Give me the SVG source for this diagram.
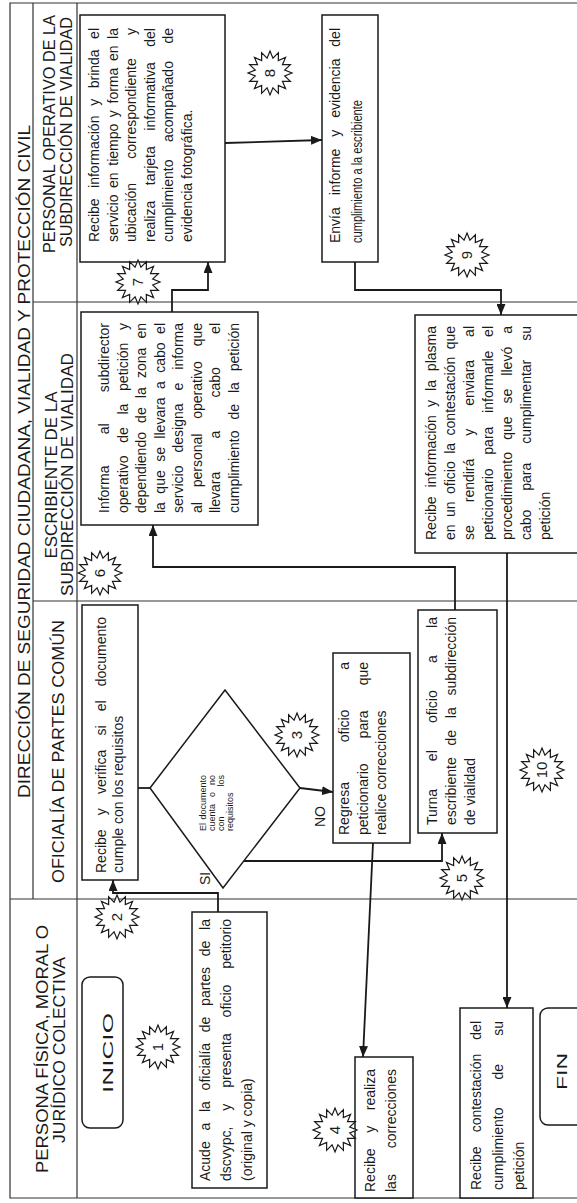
<svg xmlns="http://www.w3.org/2000/svg" width="577" height="1203" viewBox="0 0 577 1203">
<style>
.t{font-family:"Liberation Sans",Arial,sans-serif;font-size:14px;fill:#1a1a1a}
.d{font-family:"Liberation Sans",Arial,sans-serif;font-size:9px;fill:#1a1a1a}
.h{font-family:"Liberation Sans",Arial,sans-serif;font-size:17px;fill:#1a1a1a}
.box{fill:#fff;stroke:#1a1a1a;stroke-width:1.5}
.lane{fill:none;stroke:#333;stroke-width:1.2}
.c{fill:none;stroke:#1a1a1a;stroke-width:1.8}
.n{font-family:"Liberation Sans",Arial,sans-serif;font-size:15px;fill:#1a1a1a;text-anchor:middle}
.star{fill:#fff;stroke:#1a1a1a;stroke-width:1.2}
</style>
<defs>
<marker id="ah" markerUnits="userSpaceOnUse" markerWidth="11" markerHeight="9" refX="11" refY="4.5" orient="auto"><path d="M0,0 L11,4.5 L0,9 z" fill="#1a1a1a"/></marker>
<polygon id="sb" points="22,0 14.71,2.93 20.33,8.42 12.47,8.33 15.56,15.56 8.33,12.47 8.42,20.33 2.93,14.71 0,22 -2.93,14.71 -8.42,20.33 -8.33,12.47 -15.56,15.56 -12.47,8.33 -20.33,8.42 -14.71,2.93 -22,0 -14.71,-2.93 -20.33,-8.42 -12.47,-8.33 -15.56,-15.56 -8.33,-12.47 -8.42,-20.33 -2.93,-14.71 0,-22 2.93,-14.71 8.42,-20.33 8.33,-12.47 15.56,-15.56 12.47,-8.33 20.33,-8.42 14.71,-2.93"/>
</defs>
<rect width="577" height="1203" fill="#fff"/>
<g transform="translate(0,1203) rotate(-90)">
<g id="frame">
<path class="lane" d="M5,577 V10 H1200 V577 M304,33 H1200 M5,77 H1200 M304,10 V577 M602,33 V577 M901,33 V577"/>
<text class="h" x="405" y="30" font-size="19" textLength="673" lengthAdjust="spacingAndGlyphs">DIRECCIÓN DE SEGURIDAD CIUDADANA, VIALIDAD Y PROTECCIÓN CIVIL</text>
<text class="h" x="30" y="48" textLength="248" lengthAdjust="spacingAndGlyphs">PERSONA FÍSICA, MORAL  O</text>
<text class="h" x="60" y="65" textLength="186" lengthAdjust="spacingAndGlyphs">JURÍDICO COLECTIVA</text>
<text class="h" x="320" y="64" textLength="263" lengthAdjust="spacingAndGlyphs">OFICIALÍA DE PARTES COMÚN</text>
<text class="h" x="728" y="57" text-anchor="middle">ESCRIBIENTE DE LA</text>
<text class="h" x="607" y="73" textLength="243" lengthAdjust="spacingAndGlyphs">SUBDIRECCIÓN DE VIALIDAD</text>
<text class="h" x="950" y="55" textLength="238" lengthAdjust="spacingAndGlyphs">PERSONAL  OPERATIVO DE LA</text>
<text class="h" x="956" y="72" textLength="230" lengthAdjust="spacingAndGlyphs">SUBDIRECCIÓN DE VIALIDAD</text>
</g>
<g id="connectors">
<polyline class="c" points="291,218 310,218 310,113 323,113" marker-end="url(#ah)"/>
<polyline class="c" points="415,138 415,150"/>
<polyline class="c" points="415,300 411,333" marker-end="url(#ah)"/>
<polyline class="c" points="315,223 342,223 342,442 370,442" marker-end="url(#ah)"/>
<polyline class="c" points="360,373 146,363" marker-end="url(#ah)"/>
<polyline class="c" points="593,455 636,455 636,153 678,153" marker-end="url(#ah)"/>
<polyline class="c" points="891,172 913,172 913,208 941,208" marker-end="url(#ah)"/>
<polyline class="c" points="1060,225 1063,322" marker-end="url(#ah)"/>
<polyline class="c" points="941,355 913,355 913,501 888,501" marker-end="url(#ah)"/>
<polyline class="c" points="650,507 195,507" marker-end="url(#ah)"/>
<text class="t" x="318" y="210" font-size="12">SI</text>
<text class="t" x="376" y="325" font-size="13">NO</text>
</g>
<g id="n-inicio">
<rect class="box" x="75" y="82" width="151" height="41" rx="8"/>
<text class="t" x="110" y="113" font-size="22" textLength="80" lengthAdjust="spacingAndGlyphs">INICIO</text>
</g>
<g id="n-acude">
<rect class="box" x="15" y="192" width="276" height="75"/>
<text class="t" y="209.5"><tspan x="22">Acude</tspan><tspan x="72.44">a</tspan><tspan x="90.97">la</tspan><tspan x="112.61">oficialía</tspan><tspan x="170.82">de</tspan><tspan x="197.14">partes</tspan><tspan x="246.8">de</tspan><tspan x="273.12">la</tspan></text>
<text class="t" y="230.5"><tspan x="22">dscvypc,</tspan><tspan x="92.36">y</tspan><tspan x="115.26">presenta</tspan><tspan x="185.63">oficio</tspan><tspan x="234.21">petitorio</tspan></text>
<text class="t" x="22" y="251.5">(original y copia)</text>
</g>
<g id="n-recibe">
<rect class="box" x="323" y="82" width="275" height="56"/>
<text class="t" y="106"><tspan x="330">Recibe</tspan><tspan x="387.74">y</tspan><tspan x="408.91">verifica</tspan><tspan x="467.42">si</tspan><tspan x="491.7">el</tspan><tspan x="516.76">documento</tspan></text>
<text class="t" x="330" y="123">cumple con los requisitos</text>
</g>
<g id="n-decision">
<polygon class="box" points="415,150 513,225 415,300 315,223"/>
<text class="d" y="206"><tspan x="372">El</tspan><tspan x="383.48">documento</tspan></text>
<text class="d" y="215"><tspan x="372">cuenta</tspan><tspan x="406">o</tspan><tspan x="418">no</tspan></text>
<text class="d" y="224"><tspan x="372">con</tspan><tspan x="416.5">los</tspan></text>
<text class="d" x="372" y="233">requisitos</text>
</g>
<g id="n-regresa">
<rect class="box" x="360" y="333" width="190" height="77"/>
<text class="t" y="349"><tspan x="368">Regresa</tspan><tspan x="460.73">oficio</tspan><tspan x="533.23">a</tspan></text>
<text class="t" y="367.5"><tspan x="368">peticionario</tspan><tspan x="464.61">para</tspan><tspan x="517.65">que</tspan></text>
<text class="t" x="368" y="386">realice correcciones</text>
</g>
<g id="n-turna">
<rect class="box" x="370" y="418" width="223" height="79"/>
<text class="t" y="437"><tspan x="378">Turna</tspan><tspan x="441.87">el</tspan><tspan x="480.06">oficio</tspan><tspan x="540.04">a</tspan><tspan x="575.12">la</tspan></text>
<text class="t" y="456"><tspan x="378">escribiente</tspan><tspan x="457.45">de</tspan><tspan x="484.78">la</tspan><tspan x="507.43">subdirección</tspan></text>
<text class="t" x="378" y="475">de vialidad</text>
</g>
<g id="n-corrige">
<rect class="box" x="5" y="355" width="141" height="58"/>
<text class="t" y="375"><tspan x="11">Recibe</tspan><tspan x="70.17">y</tspan><tspan x="92.77">realiza</tspan></text>
<text class="t" y="396"><tspan x="11">las</tspan><tspan x="54.65">correcciones</tspan></text>
</g>
<g id="n-contestacion">
<rect class="box" x="5" y="460" width="190" height="73"/>
<text class="t" y="481"><tspan x="13">Recibe</tspan><tspan x="70.65">contestación</tspan><tspan x="163.33">del</tspan></text>
<text class="t" y="503"><tspan x="13">cumplimiento</tspan><tspan x="123.56">de</tspan><tspan x="167.23">su</tspan></text>
<text class="t" x="13" y="524">petición</text>
</g>
<g id="n-fin">
<rect class="box" x="78" y="540" width="117" height="50" rx="8"/>
<text class="t" x="113" y="567" font-size="20" textLength="37" lengthAdjust="spacingAndGlyphs">FIN</text>
</g>
<g id="n-informa">
<rect class="box" x="678" y="81" width="213" height="177"/>
<text class="t" y="109"><tspan x="690">Informa</tspan><tspan x="768.66">al</tspan><tspan x="810.75">subdirector</tspan></text>
<text class="t" y="127.5"><tspan x="690">operativo</tspan><tspan x="760.26">de</tspan><tspan x="788.51">la</tspan><tspan x="812.08">petición</tspan><tspan x="873">y</tspan></text>
<text class="t" y="146"><tspan x="690">dependiendo</tspan><tspan x="780.12">de</tspan><tspan x="804.86">la</tspan><tspan x="824.92">zona</tspan><tspan x="864.44">en</tspan></text>
<text class="t" y="164.5"><tspan x="690">la</tspan><tspan x="709.35">que</tspan><tspan x="741.15">se</tspan><tspan x="764.39">llevara</tspan><tspan x="814.07">a</tspan><tspan x="830.31">cabo</tspan><tspan x="869.11">el</tspan></text>
<text class="t" y="183"><tspan x="690">servicio</tspan><tspan x="750.47">designa</tspan><tspan x="812.52">e</tspan><tspan x="833.32">informa</tspan></text>
<text class="t" y="201.5"><tspan x="690">al</tspan><tspan x="715.72">personal</tspan><tspan x="784.24">operativo</tspan><tspan x="856.65">que</tspan></text>
<text class="t" y="220"><tspan x="690">llevara</tspan><tspan x="764.48">a</tspan><tspan x="805.51">cabo</tspan><tspan x="869.11">el</tspan></text>
<text class="t" y="238.5"><tspan x="690">cumplimiento</tspan><tspan x="783.41">de</tspan><tspan x="809.93">la</tspan><tspan x="831.77">petición</tspan></text>
</g>
<g id="n-contesta">
<rect class="box" x="650" y="415" width="238" height="180"/>
<text class="t" y="435.5"><tspan x="663">Recibe</tspan><tspan x="715.53">información</tspan><tspan x="796.06">y</tspan><tspan x="812.02">la</tspan><tspan x="831.87">plasma</tspan></text>
<text class="t" y="454.5"><tspan x="663">en</tspan><tspan x="686.04">un</tspan><tspan x="709.08">oficio</tspan><tspan x="749.23">la</tspan><tspan x="767.59">contestación</tspan><tspan x="853.66">que</tspan></text>
<text class="t" y="473.5"><tspan x="663">se</tspan><tspan x="700.74">rendirá</tspan><tspan x="767.27">y</tspan><tspan x="797.23">enviara</tspan><tspan x="866.1">al</tspan></text>
<text class="t" y="492.5"><tspan x="663">peticionario</tspan><tspan x="748.34">para</tspan><tspan x="790.11">informarle</tspan><tspan x="866.1">el</tspan></text>
<text class="t" y="511.5"><tspan x="663">procedimiento</tspan><tspan x="763.18">que</tspan><tspan x="799.57">se</tspan><tspan x="827.39">llevó</tspan><tspan x="869.21">a</tspan></text>
<text class="t" y="530.5"><tspan x="663">cabo</tspan><tspan x="712.3">para</tspan><tspan x="759.26">cumplimentar</tspan><tspan x="862.22">su</tspan></text>
<text class="t" x="663" y="549.5">petición</text>
</g>
<g id="n-servicio">
<rect class="box" x="941" y="80" width="247" height="145"/>
<text class="t" y="99"><tspan x="961">Recibe</tspan><tspan x="1015.09">información</tspan><tspan x="1097.18">y</tspan><tspan x="1114.7">brinda</tspan><tspan x="1164.13">el</tspan></text>
<text class="t" y="117.5"><tspan x="961">servicio</tspan><tspan x="1015.07">en</tspan><tspan x="1037.26">tiempo</tspan><tspan x="1085.89">y</tspan><tspan x="1099.51">forma</tspan><tspan x="1141.91">en</tspan><tspan x="1164.1">la</tspan></text>
<text class="t" y="136"><tspan x="961">ubicación</tspan><tspan x="1044.27">correspondiente</tspan><tspan x="1168.01">y</tspan></text>
<text class="t" y="154.5"><tspan x="961">realiza</tspan><tspan x="1017.8">tarjeta</tspan><tspan x="1072.28">informativa</tspan><tspan x="1156.31">del</tspan></text>
<text class="t" y="173"><tspan x="961">cumplimiento</tspan><tspan x="1060.98">acompañado</tspan><tspan x="1159.43">de</tspan></text>
<text class="t" x="961" y="191.5">evidencia fotográfica.</text>
</g>
<g id="n-envia">
<rect class="box" x="941" y="322" width="247" height="56"/>
<text class="t" y="339.5"><tspan x="960">Envía</tspan><tspan x="1007.73">informe</tspan><tspan x="1066.34">y</tspan><tspan x="1085.27">evidencia</tspan><tspan x="1156.34">del</tspan></text>
<text class="t" x="960" y="361.5" textLength="143" lengthAdjust="spacingAndGlyphs">cumplimiento a la escribiente</text>
</g>
<g id="steps">
<use href="#sb" class="star" x="156" y="158"/><text class="n" x="156" y="163">1</text>
<use href="#sb" class="star" x="286" y="117"/><text class="n" x="286" y="122">2</text>
<use href="#sb" class="star" x="468" y="297"/><text class="n" x="468" y="302">3</text>
<use href="#sb" class="star" x="73" y="335"/><text class="n" x="73" y="340">4</text>
<use href="#sb" class="star" x="325" y="462"/><text class="n" x="325" y="467">5</text>
<use href="#sb" class="star" x="630" y="100"/><text class="n" x="630" y="105">6</text>
<use href="#sb" class="star" x="921" y="138"/><text class="n" x="921" y="143">7</text>
<use href="#sb" class="star" x="1130" y="270"/><text class="n" x="1130" y="275">8</text>
<use href="#sb" class="star" x="948" y="467"/><text class="n" x="948" y="472">9</text>
<use href="#sb" class="star" x="433" y="542"/><text class="n" x="433" y="547">10</text>
</g>
</g>
</svg>
